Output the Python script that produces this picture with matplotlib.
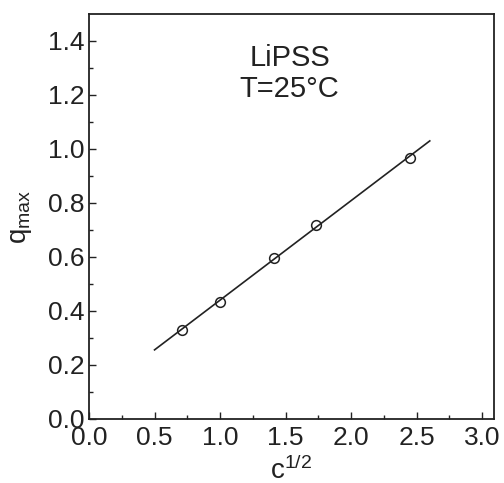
import matplotlib
matplotlib.use("Agg")
import matplotlib.pyplot as plt

plt.rcParams['font.family'] = ['Liberation Sans', 'DejaVu Sans']
plt.rcParams['mathtext.fontset'] = 'custom'
plt.rcParams['mathtext.rm'] = 'Liberation Sans'
plt.rcParams['mathtext.it'] = 'Liberation Sans'

# measured points
c_sqrt = [0.707, 1.0, 1.414, 1.732, 2.449]
q_max = [0.330, 0.432, 0.596, 0.719, 0.967]

# linear fit line ends
fit_x = [0.5, 2.6]
fit_y = [0.256, 1.030]

x_ticks = [0.0, 0.5, 1.0, 1.5, 2.0, 2.5, 3.0]
x_minor = [0.25, 0.75, 1.25, 1.75, 2.25, 2.75]
y_ticks = [0.0, 0.2, 0.4, 0.6, 0.8, 1.0, 1.2, 1.4]
y_minor = [0.1, 0.3, 0.5, 0.7, 0.9, 1.1, 1.3]

fig = plt.figure(figsize=(5.04, 4.83), dpi=100)
ax = fig.add_axes([89/504, 1 - 419/483, (494 - 89)/504, (419 - 14)/483])

ax.plot(fit_x, fit_y, color='#222222', lw=1.2)
ax.plot(c_sqrt, q_max, 'o', mfc='none', mec='#222222', mew=1.1, ms=7)

ax.set_xlim(0, 3.09)
ax.set_ylim(0, 1.5)
ax.set_xticks(x_ticks)
ax.set_xticks(x_minor, minor=True)
ax.set_yticks(y_ticks)
ax.set_yticks(y_minor, minor=True)
ax.set_xticklabels([f'{v:.1f}' for v in x_ticks])
ax.set_yticklabels([f'{v:.1f}' for v in y_ticks])
ax.tick_params(which='both', direction='in', top=False, right=False, colors='#222222')
ax.tick_params(which='major', length=5, width=1, labelsize=19)
ax.tick_params(axis='x', which='major', pad=5)
ax.tick_params(axis='y', which='major', pad=3)
ax.tick_params(which='minor', length=3, width=1)
for s in ax.spines.values():
    s.set_linewidth(1.3)
    s.set_color('#222222')

ax.set_xlabel(r'c$^{1/2}$', fontsize=20, labelpad=5, color='#222222')
ax.set_ylabel(r'q$_{\mathrm{max}}$', fontsize=20, labelpad=10, color='#222222')

ax.text(1.53, 1.28, 'LiPSS\nT=25°C', fontsize=21, ha='center', va='center',
        color='#222222', linespacing=1.15)

fig.savefig('out.png', dpi=100)
